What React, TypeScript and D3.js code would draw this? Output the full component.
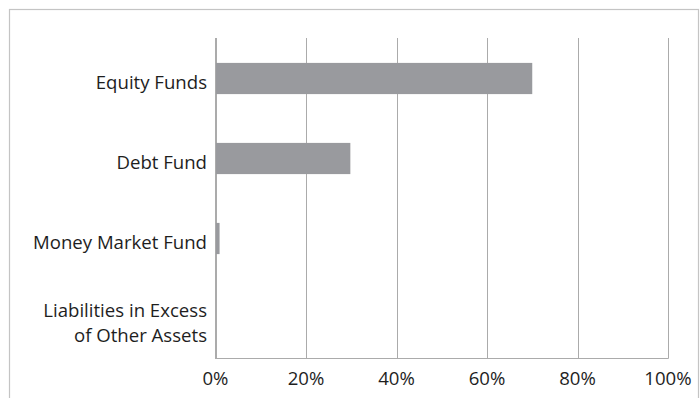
import React from "react";
import * as d3 from "d3";

const categories: string[][] = [
  ["Equity Funds"],
  ["Debt Fund"],
  ["Money Market Fund"],
  ["Liabilities in Excess", "of Other Assets"],
];
const values: number[] = [0.7, 0.298, 0.009, 0];
const ticks: number[] = [0, 0.2, 0.4, 0.6, 0.8, 1.0];

const W = 700;
const H = 398;
const FONT = "'Open Sans', 'DejaVu Sans', sans-serif";

export default function App() {
  const x = d3.scaleLinear().domain([0, 1]).range([215.5, 668]);
  const y = d3
    .scaleBand<number>()
    .domain(categories.map((_, i) => i))
    .range([38.5, 358.5])
    .paddingInner(0.61)
    .paddingOuter(0.305);
  const fmt = d3.format(".0%");
  return (
    <svg
      width={W}
      height={H}
      style={{ position: "absolute", left: 0, top: 0, background: "#fff" }}
    >
      <rect x={9.5} y={9.5} width={689} height={400} fill="#fff" stroke="#c4c4c4" strokeWidth={1.2} />
      {ticks.map((t) => (
        <line
          key={"g" + t}
          x1={Math.round(x(t)) + 0.5}
          x2={Math.round(x(t)) + 0.5}
          y1={38}
          y2={358.5}
          stroke="#ababab"
          strokeWidth={1}
        />
      ))}
      {values.map((v, i) => (
        <rect
          key={"b" + i}
          x={x(0)}
          y={y(i)}
          width={Math.max(0, x(v) - x(0))}
          height={y.bandwidth()}
          fill="#999a9e"
        />
      ))}
      <line x1={215.5} x2={215.5} y1={38} y2={358.5} stroke="#ababab" />
      <line x1={215} x2={668.5} y1={358.5} y2={358.5} stroke="#ababab" />
      {categories.map((lines, i) => {
        const c = (y(i) as number) + y.bandwidth() / 2;
        const lh = 25;
        const start = c + 10.5 - ((lines.length - 1) * lh) / 2;
        return (
          <text
            key={"l" + i}
            textAnchor="end"
            fontFamily={FONT}
            fontSize={18.6}
            fill="#1e1e1e"
          >
            {lines.map((ln, j) => (
              <tspan key={j} x={207} y={start + j * lh}>
                {ln}
              </tspan>
            ))}
          </text>
        );
      })}
      {ticks.map((t) => (
        <text
          key={"t" + t}
          x={x(t)}
          y={385}
          textAnchor="middle"
          fontFamily={FONT}
          fontSize={18.6}
          fill="#1e1e1e"
        >
          {fmt(t)}
        </text>
      ))}
    </svg>
  );
}
